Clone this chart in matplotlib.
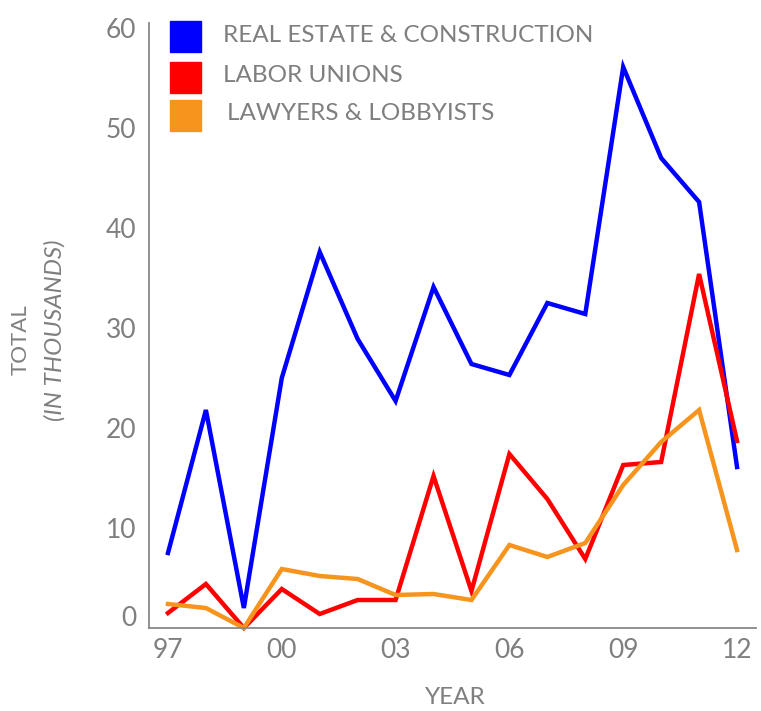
import matplotlib.pyplot as plt
import matplotlib.transforms as mtransforms
from matplotlib.patches import Rectangle

plt.rcParams['font.family'] = ['Lato', 'DejaVu Sans']

years = list(range(1997, 2013))
real_estate = [7.5, 21.8, 2.0, 25.0, 37.6, 28.9, 22.7, 34.1, 26.4, 25.3, 32.5, 31.4, 56.1, 47.0, 42.6, 16.1]
labor_unions = [1.5, 4.4, 0.0, 3.9, 1.4, 2.8, 2.8, 15.2, 3.7, 17.4, 12.9, 6.9, 16.3, 16.6, 35.4, 18.7]
lawyers = [2.4, 2.0, 0.0, 5.9, 5.2, 4.9, 3.3, 3.4, 2.8, 8.3, 7.1, 8.5, 14.3, 18.6, 21.8, 7.8]

series_names = ['REAL ESTATE & CONSTRUCTION', 'LABOR UNIONS', 'LAWYERS & LOBBYISTS']
series_colors = ['#0000ff', '#ff0000', '#f7941d']
xtick_years = [1997, 2000, 2003, 2006, 2009, 2012]
xtick_labels = ['97', '00', '03', '06', '09', '12']
ytick_values = [0, 10, 20, 30, 40, 50, 60]

gray = '#7f7f7f'

fig = plt.figure(figsize=(7.61, 7.11), dpi=100)
ax = fig.add_axes([149 / 761, 83 / 711, 607 / 761, 605 / 711])

for vals, col in zip([real_estate, labor_unions, lawyers], series_colors):
    ax.plot(years, vals, color=col, lw=3.2, solid_joinstyle='miter', clip_on=False)

ax.set_xlim(1996.5, 2012.5)
ax.set_ylim(0, 60.5)
ax.set_xticks(xtick_years)
ax.set_xticklabels(xtick_labels)
ax.set_yticks(ytick_values)
ax.tick_params(length=0, labelsize=19, colors=gray, pad=7)
ax.tick_params(axis='y', pad=9)

for s in ['top', 'right']:
    ax.spines[s].set_visible(False)
for s in ['left', 'bottom']:
    ax.spines[s].set_color('#888888')
    ax.spines[s].set_linewidth(1.3)

# the zero label sits a little higher in the original
lab0 = ax.get_yticklabels()[0]
lab0.set_transform(lab0.get_transform() + mtransforms.ScaledTranslation(0, 12 / 100, fig.dpi_scale_trans))

# legend drawn by hand
sq_tops = [21, 62, 100]
txt_x = [223, 223, 227]
for name, col, top, tx in zip(series_names, series_colors, sq_tops, txt_x):
    fig.add_artist(Rectangle((170 / 761, 1 - (top + 31) / 711), 31 / 761, 31 / 711,
                             transform=fig.transFigure, color=col))
    fig.text(tx / 761, 1 - (top + 14) / 711, name, color=gray, fontsize=17.5,
             va='center', ha='left')

fig.text(21 / 761, 1 - 340 / 711, 'TOTAL', rotation=90, color=gray, fontsize=16,
         ha='center', va='center')
fig.text(55 / 761, 1 - 330 / 711, '(IN THOUSANDS)', rotation=90, color=gray, fontsize=17.5,
         style='italic', ha='center', va='center')
fig.text(455 / 761, 1 - 697 / 711, 'YEAR', color=gray, fontsize=17.5, ha='center', va='center')

fig.savefig('out.png', dpi=100)
